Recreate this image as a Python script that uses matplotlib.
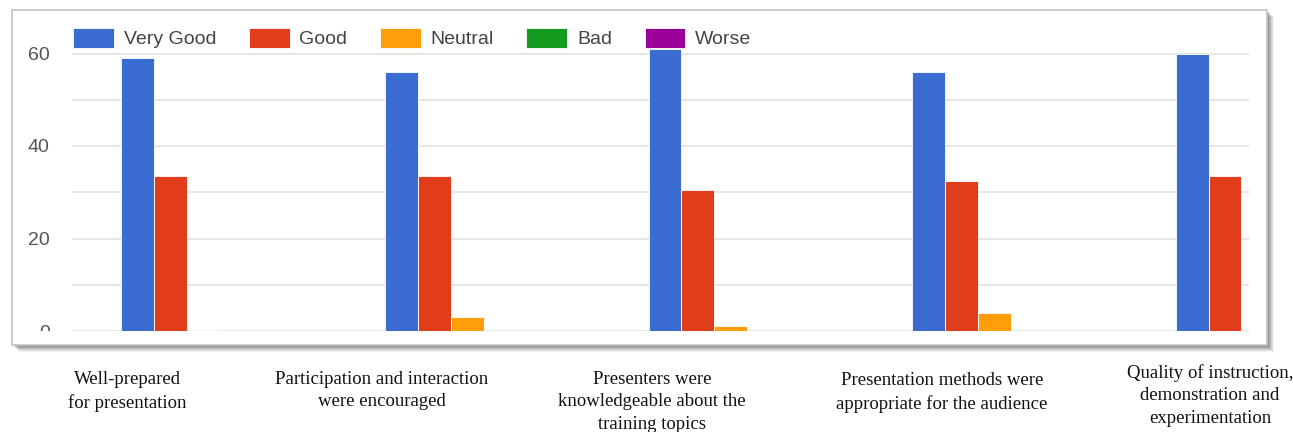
import numpy as np
import matplotlib.pyplot as plt
from matplotlib.patches import Rectangle

# survey answers per question
questions = ["Well-prepared\nfor presentation",
             "Participation and interaction\nwere encouraged",
             "Presenters were\nknowledgeable about the\ntraining topics",
             "Presentation methods were\nappropriate for the audience",
             "Quality of instruction,\ndemonstration and\nexperimentation"]
ratings = ["Very Good", "Good", "Neutral", "Bad", "Worse"]
very_good = [59, 56, 61, 56, 60]
good = [33.5, 33.5, 30.5, 32.5, 33.5]
neutral = [0.2, 3, 1, 4, 0]
bad = [0, 0, 0, 0, 0]
worse = [0, 0, 0, 0, 0]
colors = ["#3a6cd1", "#e03e1a", "#ff9d0a", "#149a1e", "#990099"]

W, H = 1293, 432
fig = plt.figure(figsize=(W / 100, H / 100), dpi=100)


def fx(px):
    return px / W


def fy(py):
    return 1 - py / H


def box(x0, y0, x1, y1, **kw):
    r = Rectangle((fx(x0), fy(y1)), (x1 - x0) / W, (y1 - y0) / H,
                  transform=fig.transFigure, **kw)
    fig.patches.append(r)
    return r


# soft drop shadow behind the card
for off, a in [(7, 0.08), (6, 0.10), (5, 0.12), (4, 0.15), (3, 0.18), (2, 0.22)]:
    box(12 + off, 10 + off, 1267 + off, 345 + off, facecolor="#555555",
        edgecolor="none", alpha=a, zorder=0)
box(12, 10, 1267, 345, facecolor="white", edgecolor="#c4c4c4", linewidth=1.2, zorder=1)

ax = fig.add_axes([fx(72), fy(331), fx(1249) - fx(72), (331 - 44.25) / H])
ax.set_zorder(2)
ax.patch.set_alpha(0)

x = np.arange(len(questions))
step = 0.125
for i, (vals, c) in enumerate(zip([very_good, good, neutral, bad, worse], colors)):
    ax.bar(x + (i - 2) * step, vals, step, color=c, edgecolor="white",
           linewidth=0.6, label=ratings[i], zorder=3)

ax.set_xlim(-0.5, 3.966)
ax.set_ylim(0, 62)
ax.set_yticks([0, 20, 40, 60])
ax.set_yticks([10, 30, 50], minor=True)
ax.grid(axis="y", which="both", color="#e2e2e2", linewidth=1.2, zorder=0)
ax.set_xticks([])
ax.tick_params(axis="y", which="both", length=0, pad=16, labelsize=14,
               labelcolor="#555555")
for lbl in ax.get_yticklabels():
    lbl.set_fontfamily("Liberation Sans")
for s in ax.spines.values():
    s.set_visible(False)

# the zero label sits at the bottom edge of the chart image and is cut off
box(20, 330.5, 60, 344, facecolor="white", edgecolor="none", zorder=5)

handles, labels = ax.get_legend_handles_labels()
fig.legend(handles, labels, loc="upper left", ncol=5,
           bbox_to_anchor=(fx(73), fy(27.5)), frameon=False, borderpad=0,
           borderaxespad=0, handlelength=2.1, handleheight=1.25,
           handletextpad=0.5, columnspacing=1.68,
           prop={"family": "Liberation Sans", "size": 14},
           labelcolor="#444444")

label_x = [127, 382, 652, 942, 1210]
label_top = [371, 371, 371, 372, 364]
for q, lx, ly in zip(questions, label_x, label_top):
    fig.text(fx(lx), fy(ly), q, ha="center", va="top", fontsize=13.5,
             family="Liberation Serif", color="#111111", linespacing=1.42)

fig.savefig("out.png", dpi=100, facecolor="white")
